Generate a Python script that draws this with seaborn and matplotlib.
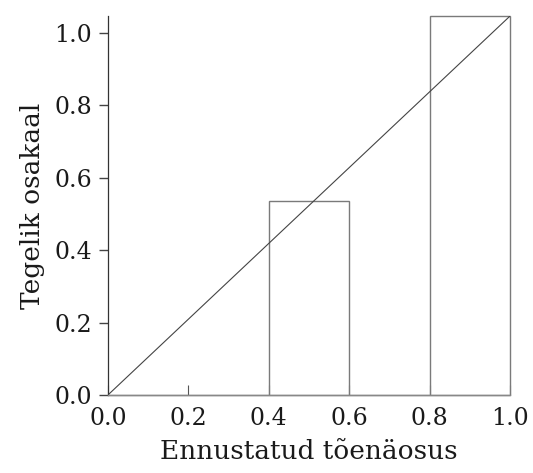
import matplotlib
matplotlib.use("Agg")
import matplotlib.pyplot as plt
import seaborn as sns
import numpy as np
import pandas as pd

# data
bin_edges = [0.0, 0.2, 0.4, 0.6, 0.8, 1.0]
bin_centers = [0.1, 0.3, 0.5, 0.7, 0.9]
observed_fraction = [0.0, 0.0, 0.535, 0.0, 1.047]
x_ticks = [0.0, 0.2, 0.4, 0.6, 0.8, 1.0]
y_ticks = [0.0, 0.2, 0.4, 0.6, 0.8, 1.0]
x_label = "Ennustatud tõenäosus"
y_label = "Tegelik osakaal"

sns.set_style("white")
plt.rcParams['font.family'] = ['DejaVu Serif']

df = pd.DataFrame({"p": bin_centers, "frac": observed_fraction})

fig = plt.figure(figsize=(5.33, 4.73), dpi=100)
ax = fig.add_axes([0.2026, 0.165, 0.7542, 0.801])

sns.histplot(data=df, x="p", weights="frac", bins=bin_edges, fill=False,
             element="bars", color="#7a7a7a", linewidth=1.0, ax=ax)
for p in ax.patches:
    p.set_clip_on(False)

ax.plot([0, 1], [0, 1], transform=ax.transAxes, color="#444444", linewidth=0.8)

ax.set_xlim(0, 1)
ax.set_ylim(0, 1.047)
ax.set_xticks(x_ticks)
ax.set_yticks(y_ticks)
ax.set_xticklabels([f"{t:.1f}" for t in x_ticks])
ax.set_yticklabels([f"{t:.1f}" for t in y_ticks])
ax.tick_params(axis="x", bottom=True, direction="in", length=7, width=0.8,
               color="#555555", labelsize=17, pad=9, labelcolor="#1a1a1a")
ax.tick_params(axis="y", left=True, direction="out", length=6.5, width=1.0,
               color="#444444", labelsize=17, pad=5, labelcolor="#1a1a1a")
ax.set_xlabel(x_label, fontsize=19, labelpad=6, color="#1a1a1a")
ax.set_ylabel(y_label, fontsize=19, labelpad=7, color="#1a1a1a")

for s in ["top", "right"]:
    ax.spines[s].set_visible(False)
ax.spines["left"].set_color("#333333")
ax.spines["left"].set_linewidth(0.9)
ax.spines["bottom"].set_color("#888888")
ax.spines["bottom"].set_linewidth(1.0)

fig.savefig("out.png", dpi=100)
